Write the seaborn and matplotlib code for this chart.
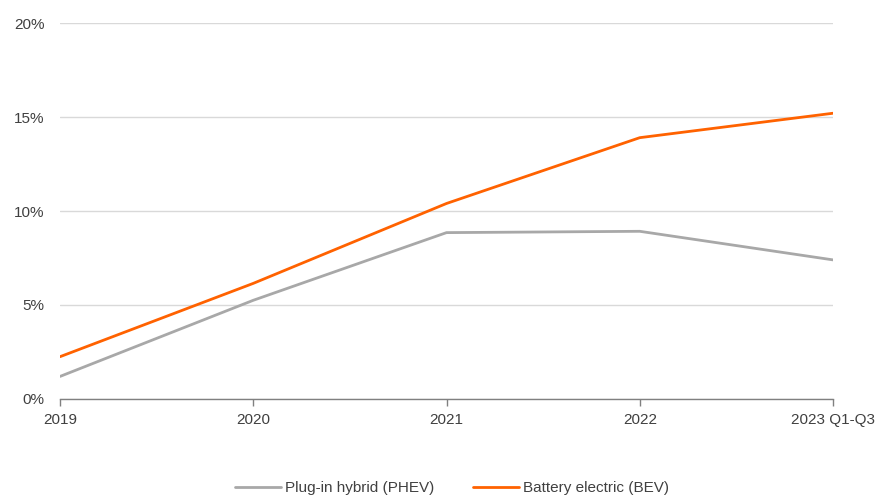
import matplotlib
matplotlib.use("Agg")
import matplotlib.pyplot as plt
import seaborn as sns
import pandas as pd
from matplotlib.ticker import FuncFormatter

periods = ["2019", "2020", "2021", "2022", "2023 Q1-Q3"]
phev_share = [1.2, 5.25, 8.85, 8.92, 7.4]
bev_share = [2.25, 6.15, 10.4, 13.9, 15.2]
series_names = ["Plug-in hybrid (PHEV)", "Battery electric (BEV)"]
y_ticks = [0, 5, 10, 15, 20]

sns.set_theme(style="white")
plt.rcParams["font.family"] = ["Liberation Sans", "DejaVu Sans"]

df = pd.DataFrame({
    "period": periods * 2,
    "pos": list(range(len(periods))) * 2,
    "share": phev_share + bev_share,
    "series": [series_names[0]] * len(periods) + [series_names[1]] * len(periods),
})

fig = plt.figure(figsize=(8.76, 4.97), dpi=100)
ax = fig.add_axes([60 / 876, 1 - 399 / 497, (833 - 60) / 876, (399 - 23) / 497])

palette = {series_names[0]: "#A8A8A8", series_names[1]: "#FF6200"}
sns.lineplot(data=df, x="pos", y="share", hue="series", palette=palette,
             linewidth=2.0, ax=ax, legend=True)

ax.set_xlim(0, len(periods) - 1)
ax.set_ylim(0, 20)
ax.set_yticks(y_ticks)
ax.yaxis.set_major_formatter(FuncFormatter(lambda v, _: f"{v:.0f}%"))
ax.set_xticks(range(len(periods)))
ax.set_xticklabels(periods)
ax.set_xlabel("")
ax.set_ylabel("")

ax.grid(axis="y", color="#D9D9D9", linewidth=1)
ax.set_axisbelow(True)
for s in ["top", "right", "left"]:
    ax.spines[s].set_visible(False)
ax.spines["bottom"].set_color("#808080")
ax.spines["bottom"].set_linewidth(1)

ax.tick_params(axis="x", bottom=True, length=5, width=1, color="#808080",
               labelsize=11, labelcolor="#404040", pad=5)
ax.tick_params(axis="y", left=False, length=0, labelsize=11, labelcolor="#404040", pad=11)

handles, labels = ax.get_legend_handles_labels()
ax.legend(handles, labels, loc="center", bbox_to_anchor=((452 - 60) / 773, (399 - 488) / 376),
          ncol=2, frameon=False, fontsize=11, handlelength=3.0, columnspacing=2.5,
          handletextpad=0.3, labelcolor="#404040")

fig.savefig("out.png", dpi=100)
